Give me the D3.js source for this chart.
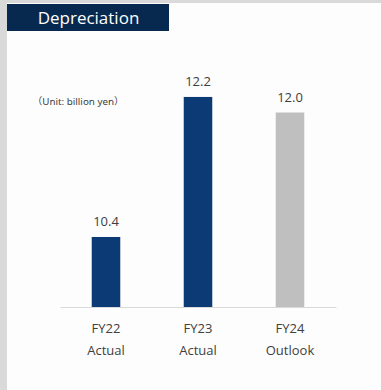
<!DOCTYPE html>
<html><head><meta charset="utf-8">
<script src="https://cdn.jsdelivr.net/npm/d3@7"></script>
<style>body{margin:0;background:#d9d9d9;}svg{display:block;}</style>
</head><body>
<script>
const categories = ["FY22", "FY23", "FY24"];
const subLabels = ["Actual", "Actual", "Outlook"];
const values = [10.4, 12.2, 12.0];
const valueLabels = ["10.4", "12.2", "12.0"];
const colors = ["#0b3a75", "#0b3a75", "#bfbfbf"];

const W = 381, H = 390;
const svg = d3.select("body").append("svg").attr("width", W).attr("height", H);
svg.append("rect").attr("x", 0).attr("y", 0).attr("width", W).attr("height", H).attr("fill", "#d9d9d9");
svg.append("rect").attr("x", 7).attr("y", 3).attr("width", W - 7).attr("height", H - 3).attr("fill", "#fdfdfd");
svg.append("rect").attr("x", 7).attr("y", 4).attr("width", 162).attr("height", 27).attr("fill", "#08294f");
svg.append("text").attr("x", 88.5).attr("y", 24).attr("text-anchor", "middle")
  .attr("font-family", "'Open Sans', sans-serif").attr("font-size", 17).attr("fill", "#ffffff")
  .text("Depreciation");

const unit = svg.append("text").attr("x", 32.5).attr("y", 105)
  .attr("font-family", "'Noto Sans', sans-serif").attr("font-size", 9.8).attr("fill", "#404040");
unit.append("tspan").attr("font-family", "'Noto Sans CJK JP', sans-serif").text("（");
unit.append("tspan").text("Unit: billion yen");
unit.append("tspan").attr("font-family", "'Noto Sans CJK JP', sans-serif").text("）");

const x = d3.scaleBand().domain(categories).range([60, 336]).paddingInner(0.69).paddingOuter(0.345);
const y = d3.scaleLinear().domain([9.5, 12.5]).range([307, 73.6]);

svg.selectAll("rect.bar").data(values).join("rect").attr("class", "bar")
  .attr("x", (d, i) => x(categories[i]))
  .attr("width", x.bandwidth())
  .attr("y", d => y(d))
  .attr("height", d => y(9.5) - y(d))
  .attr("fill", (d, i) => colors[i]);

const axis = svg.append("g").attr("transform", `translate(0,${y(9.5)})`)
  .call(d3.axisBottom(x).tickSize(0).tickPadding(0).tickFormat(() => ""));
axis.select(".domain").attr("stroke", "#d9d9d9").attr("stroke-width", 1.2);

svg.selectAll("text.val").data(values).join("text").attr("class", "val")
  .attr("x", (d, i) => x(categories[i]) + x.bandwidth() / 2)
  .attr("y", d => y(d) - 11)
  .attr("text-anchor", "middle")
  .attr("font-family", "'Open Sans', sans-serif").attr("font-size", 13).attr("fill", "#404040")
  .text((d, i) => valueLabels[i]);

svg.selectAll("text.cat").data(categories).join("text").attr("class", "cat")
  .attr("x", d => x(d) + x.bandwidth() / 2)
  .attr("y", 332.5)
  .attr("text-anchor", "middle")
  .attr("font-family", "'Open Sans', sans-serif").attr("font-size", 13).attr("fill", "#404040")
  .text(d => d);
svg.selectAll("text.sub").data(subLabels).join("text").attr("class", "sub")
  .attr("x", (d, i) => x(categories[i]) + x.bandwidth() / 2)
  .attr("y", 355)
  .attr("text-anchor", "middle")
  .attr("font-family", "'Open Sans', sans-serif").attr("font-size", 13).attr("fill", "#404040")
  .text(d => d);
</script>
</body></html>
